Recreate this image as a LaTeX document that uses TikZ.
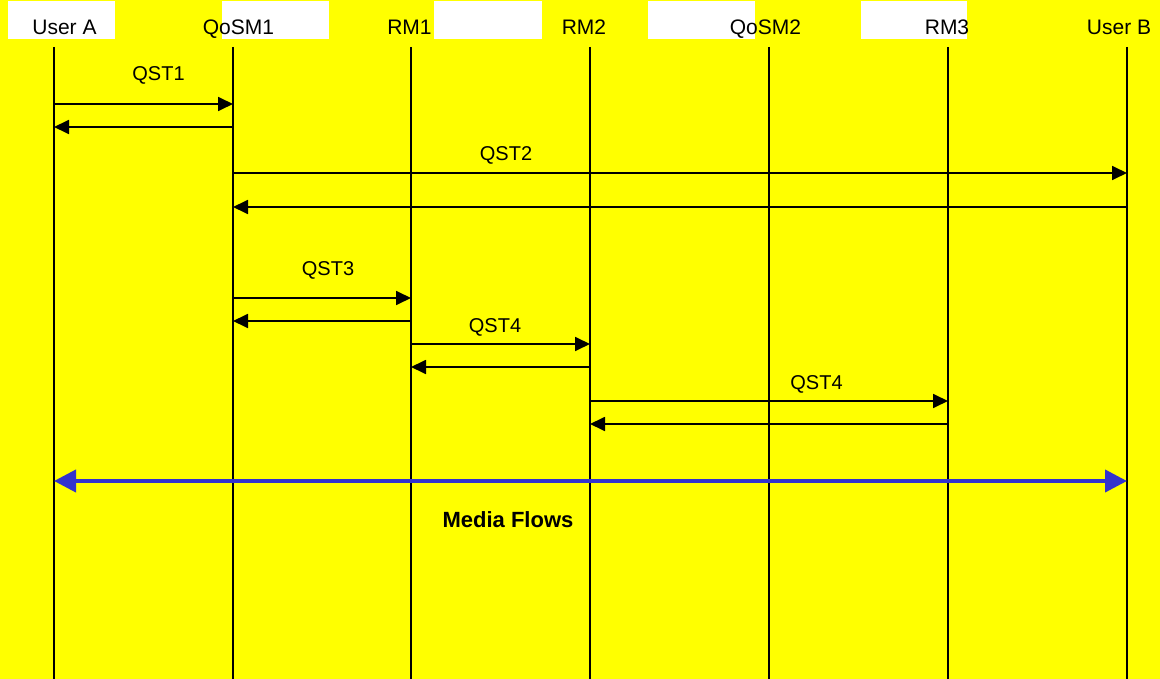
\documentclass[tikz,border=0pt]{standalone}
\usepackage{fontspec}
\setmainfont{Liberation Sans}
\usepackage{xcolor}
\usetikzlibrary{arrows.meta,positioning}

\definecolor{bgyellow}{RGB}{255,255,0}
\definecolor{flowblue}{RGB}{51,51,204}

\begin{document}
\begin{tikzpicture}[x=1pt,y=-1pt,
    lifeline/.style={line width=1.8pt},
    msg/.style={line width=1.8pt, -{Triangle[length=15pt,width=14pt]}},
    flow/.style={flowblue, line width=4pt, {Triangle[length=22pt,width=22pt]}-{Triangle[length=22pt,width=22pt]}},
    hdr/.style={anchor=base, inner sep=0pt, font=\fontsize{21}{25}\selectfont},
    lbl/.style={anchor=base, inner sep=0pt, font=\fontsize{20}{24}\selectfont}]

        % Background
        \fill[bgyellow] (0,0) rectangle (1160,679);
        \useasboundingbox (0,0) rectangle (1160,679);

        % White boxes behind the header
        \fill[white] (8,1) rectangle (115,39);
        \fill[white] (222,1) rectangle (329,39);
        \fill[white] (434,1) rectangle (542,39);
        \fill[white] (648,1) rectangle (755,39);
        \fill[white] (861,1) rectangle (967,39);

        % Lifelines
        \foreach \name/\xx in {ua/54, q1/233, r1/411, r2/590, q2/769, r3/948, ub/1127}{
            \coordinate (\name-top) at (\xx,47);
            \coordinate (\name-bot) at (\xx,679);
            \draw[lifeline] (\name-top) -- (\name-bot);
        }

        % Header labels
        \node[hdr] (hua) at (64.5,35) {User A};
        \node[hdr] (hq1) at (238.5,35) {QoSM1};
        \node[hdr] (hr1) at (409.5,35) {RM1};
        \node[hdr] (hr2) at (584,35) {RM2};
        \node[hdr] (hq2) at (765.5,35) {QoSM2};
        \node[hdr] (hr3) at (947,35) {RM3};
        \node[hdr] (hub) at (1119,35) {User B};

        % QST1: User A <-> QoSM1
        \node[lbl] (qst1) at (158.5,81) {QST1};
        \draw[msg] (ua-top |- 0,104) -- (q1-top |- 0,104);
        \draw[msg] (q1-top |- 0,127) -- (ua-top |- 0,127);

        % QST2: QoSM1 <-> User B
        \node[lbl] (qst2) at (506,161) {QST2};
        \draw[msg] (q1-top |- 0,173) -- (ub-top |- 0,173);
        \draw[msg] (ub-top |- 0,207) -- (q1-top |- 0,207);

        % QST3: QoSM1 <-> RM1
        \node[lbl] (qst3) at (328,276) {QST3};
        \draw[msg] (q1-top |- 0,298) -- (r1-top |- 0,298);
        \draw[msg] (r1-top |- 0,321) -- (q1-top |- 0,321);

        % QST4: RM1 <-> RM2
        \node[lbl] (qst4a) at (495,332) {QST4};
        \draw[msg] (r1-top |- 0,344) -- (r2-top |- 0,344);
        \draw[msg] (r2-top |- 0,367) -- (r1-top |- 0,367);

        % QST4: RM2 <-> RM3
        \node[lbl] (qst4b) at (816.5,389) {QST4};
        \draw[msg] (r2-top |- 0,401) -- (r3-top |- 0,401);
        \draw[msg] (r3-top |- 0,424) -- (r2-top |- 0,424);

        % Media flows
        \draw[flow] (ua-top |- 0,481) -- (ub-top |- 0,481);
        \node[anchor=base, inner sep=0pt, font=\fontsize{22}{26}\selectfont\bfseries] (media) at (508,527) {Media Flows};
\end{tikzpicture}
\end{document}
